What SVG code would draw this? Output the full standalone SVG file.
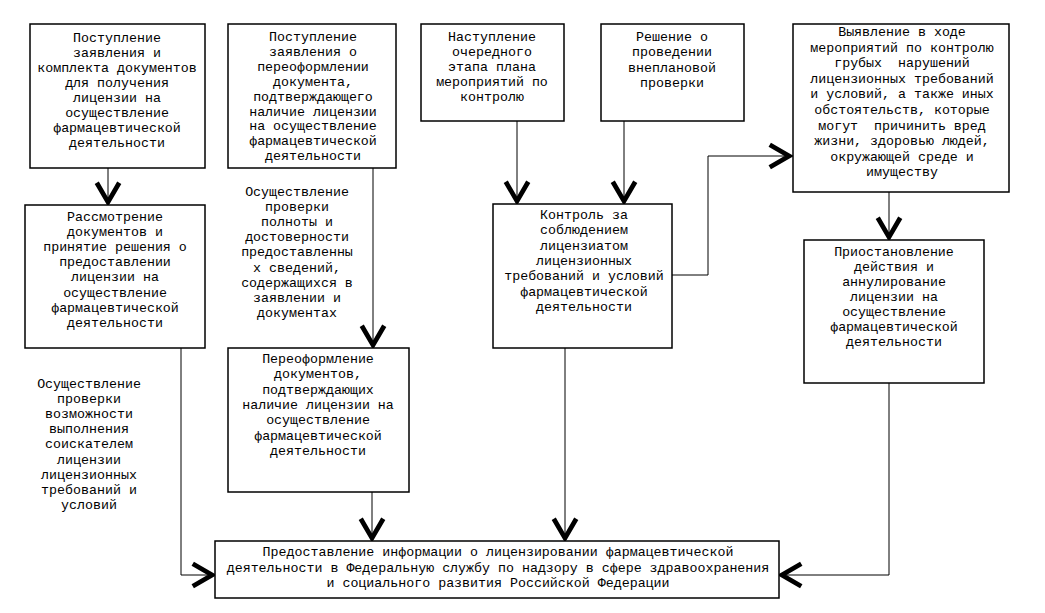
<svg xmlns="http://www.w3.org/2000/svg" width="1045" height="613" viewBox="0 0 1045 613">
<style>
.box{fill:#fff;stroke:#000;stroke-width:1.5}
.t{font-family:'Liberation Mono','Courier New',monospace;font-size:13.3px;fill:#000;text-anchor:middle;white-space:pre}
.c{fill:none;stroke:#000;stroke-width:1}
</style>
<defs>
<marker id="v" markerUnits="userSpaceOnUse" markerWidth="30" markerHeight="30" viewBox="-22 -12 24 24" refX="0" refY="0" orient="auto" overflow="visible">
<path d="M-17,-9 L-1.5,0 L-17,9" fill="none" stroke="#000" stroke-width="3.8" stroke-linejoin="miter"/>
</marker>
</defs>
<rect width="1045" height="613" fill="#fff"/>
<g id="connectors">
<path class="c" d="M108,168 V204" marker-end="url(#v)"/>
<path class="c" d="M373,168 V347" marker-end="url(#v)"/>
<path class="c" d="M517,121 V203" marker-end="url(#v)"/>
<path class="c" d="M624,121 V203" marker-end="url(#v)"/>
<path class="c" d="M672,275 H708 V156 H791" marker-end="url(#v)"/>
<path class="c" d="M889,192 V239" marker-end="url(#v)"/>
<path class="c" d="M181,348 V575 H214" marker-end="url(#v)"/>
<path class="c" d="M372,492 V540" marker-end="url(#v)"/>
<path class="c" d="M565,348 V540" marker-end="url(#v)"/>
<path class="c" d="M889,383 V575 H780" marker-end="url(#v)"/>
</g>
<g id="n1"><rect class="box" x="30" y="24" width="175" height="144"/>
<text class="t" x="117" y="42"><tspan x="117">Поступление</tspan><tspan x="117" dy="15">заявления и</tspan><tspan x="117" dy="15">комплекта документов</tspan><tspan x="117" dy="15">для получения</tspan><tspan x="117" dy="15">лицензии на</tspan><tspan x="117" dy="15">осуществление</tspan><tspan x="117" dy="15">фармацевтической</tspan><tspan x="117" dy="15">деятельности</tspan></text></g>
<g id="n2"><rect class="box" x="228" y="24" width="168" height="144"/>
<text class="t" x="313" y="41"><tspan x="313">Поступление</tspan><tspan x="313" dy="14.9">заявления о</tspan><tspan x="313" dy="14.9">переоформлении</tspan><tspan x="313" dy="14.9">документа,</tspan><tspan x="313" dy="14.9">подтверждающего</tspan><tspan x="313" dy="14.9">наличие лицензии</tspan><tspan x="313" dy="14.9">на осуществление</tspan><tspan x="313" dy="14.9">фармацевтической</tspan><tspan x="313" dy="14.9">деятельности</tspan></text></g>
<g id="n3"><rect class="box" x="421" y="24" width="143" height="97"/>
<text class="t" x="492" y="41"><tspan x="492">Наступление</tspan><tspan x="492" dy="15">очередного</tspan><tspan x="492" dy="15">этапа плана</tspan><tspan x="492" dy="15">мероприятий по</tspan><tspan x="492" dy="15">контролю</tspan></text></g>
<g id="n4"><rect class="box" x="601" y="24" width="143" height="97"/>
<text class="t" x="672" y="41"><tspan x="672">Решение о</tspan><tspan x="672" dy="15.3">проведении</tspan><tspan x="672" dy="15.3">внеплановой</tspan><tspan x="672" dy="15.3">проверки</tspan></text></g>
<g id="n5"><rect class="box" x="793" y="24" width="216" height="168"/>
<text class="t" x="902" y="36"><tspan x="902">Выявление в ходе</tspan><tspan x="902" dy="15.6">мероприятий по контролю</tspan><tspan x="902" dy="15.6">грубых  нарушений</tspan><tspan x="902" dy="15.6">лицензионных требований</tspan><tspan x="902" dy="15.6">и условий, а также иных</tspan><tspan x="902" dy="15.6">обстоятельств, которые</tspan><tspan x="902" dy="15.6">могут  причинить вред</tspan><tspan x="902" dy="15.6">жизни, здоровью людей,</tspan><tspan x="902" dy="15.6">окружающей среде и</tspan><tspan x="902" dy="15.6">имуществу</tspan></text></g>
<g id="n6"><rect class="box" x="25" y="205" width="180" height="143"/>
<text class="t" x="115" y="221"><tspan x="115">Рассмотрение</tspan><tspan x="115" dy="15.1">документов и</tspan><tspan x="115" dy="15.1">принятие решения о</tspan><tspan x="115" dy="15.1">предоставлении</tspan><tspan x="115" dy="15.1">лицензии на</tspan><tspan x="115" dy="15.1">осуществление</tspan><tspan x="115" dy="15.1">фармацевтической</tspan><tspan x="115" dy="15.1">деятельности</tspan></text></g>
<g id="n7"><rect class="box" x="228" y="348" width="181" height="144"/>
<text class="t" x="318" y="363"><tspan x="318">Переоформление</tspan><tspan x="318" dy="15.3">документов,</tspan><tspan x="318" dy="15.3">подтверждающих</tspan><tspan x="318" dy="15.3">наличие лицензии на</tspan><tspan x="318" dy="15.3">осуществление</tspan><tspan x="318" dy="15.3">фармацевтической</tspan><tspan x="318" dy="15.3">деятельности</tspan></text></g>
<g id="n8"><rect class="box" x="493" y="204" width="179" height="144"/>
<text class="t" x="584" y="219"><tspan x="584">Контроль за</tspan><tspan x="584" dy="15.3">соблюдением</tspan><tspan x="584" dy="15.3">лицензиатом</tspan><tspan x="584" dy="15.3">лицензионных</tspan><tspan x="584" dy="15.3">требований и условий</tspan><tspan x="584" dy="15.3">фармацевтической</tspan><tspan x="584" dy="15.3">деятельности</tspan></text></g>
<g id="n9"><rect class="box" x="804" y="240" width="180" height="143"/>
<text class="t" x="894" y="256"><tspan x="894">Приостановление</tspan><tspan x="894" dy="15">действия и</tspan><tspan x="894" dy="15">аннулирование</tspan><tspan x="894" dy="15">лицензии на</tspan><tspan x="894" dy="15">осуществление</tspan><tspan x="894" dy="15">фармацевтической</tspan><tspan x="894" dy="15">деятельности</tspan></text></g>
<g id="n10"><rect class="box" x="215" y="541" width="564" height="57"/>
<text class="t" x="498" y="556"><tspan x="498">Предоставление информации о лицензировании фармацевтической</tspan><tspan x="498" dy="15.5">деятельности в Федеральную службу по надзору в сфере здравоохранения</tspan><tspan x="498" dy="15.5">и социального развития Российской Федерации</tspan></text></g>
<g id="label1">
<text class="t" x="297" y="196"><tspan x="297">Осуществление</tspan><tspan x="297" dy="15.1">проверки</tspan><tspan x="297" dy="15.1">полноты и</tspan><tspan x="297" dy="15.1">достоверности</tspan><tspan x="297" dy="15.1">предоставленны</tspan><tspan x="297" dy="15.1">х сведений,</tspan><tspan x="297" dy="15.1">содержащихся в</tspan><tspan x="297" dy="15.1">заявлении и</tspan><tspan x="297" dy="15.1">документах</tspan></text></g>
<g id="label2">
<text class="t" x="89" y="388"><tspan x="89">Осуществление</tspan><tspan x="89" dy="15.1">проверки</tspan><tspan x="89" dy="15.1">возможности</tspan><tspan x="89" dy="15.1">выполнения</tspan><tspan x="89" dy="15.1">соискателем</tspan><tspan x="89" dy="15.1">лицензии</tspan><tspan x="89" dy="15.1">лицензионных</tspan><tspan x="89" dy="15.1">требований и</tspan><tspan x="89" dy="15.1">условий</tspan></text></g>
</svg>
